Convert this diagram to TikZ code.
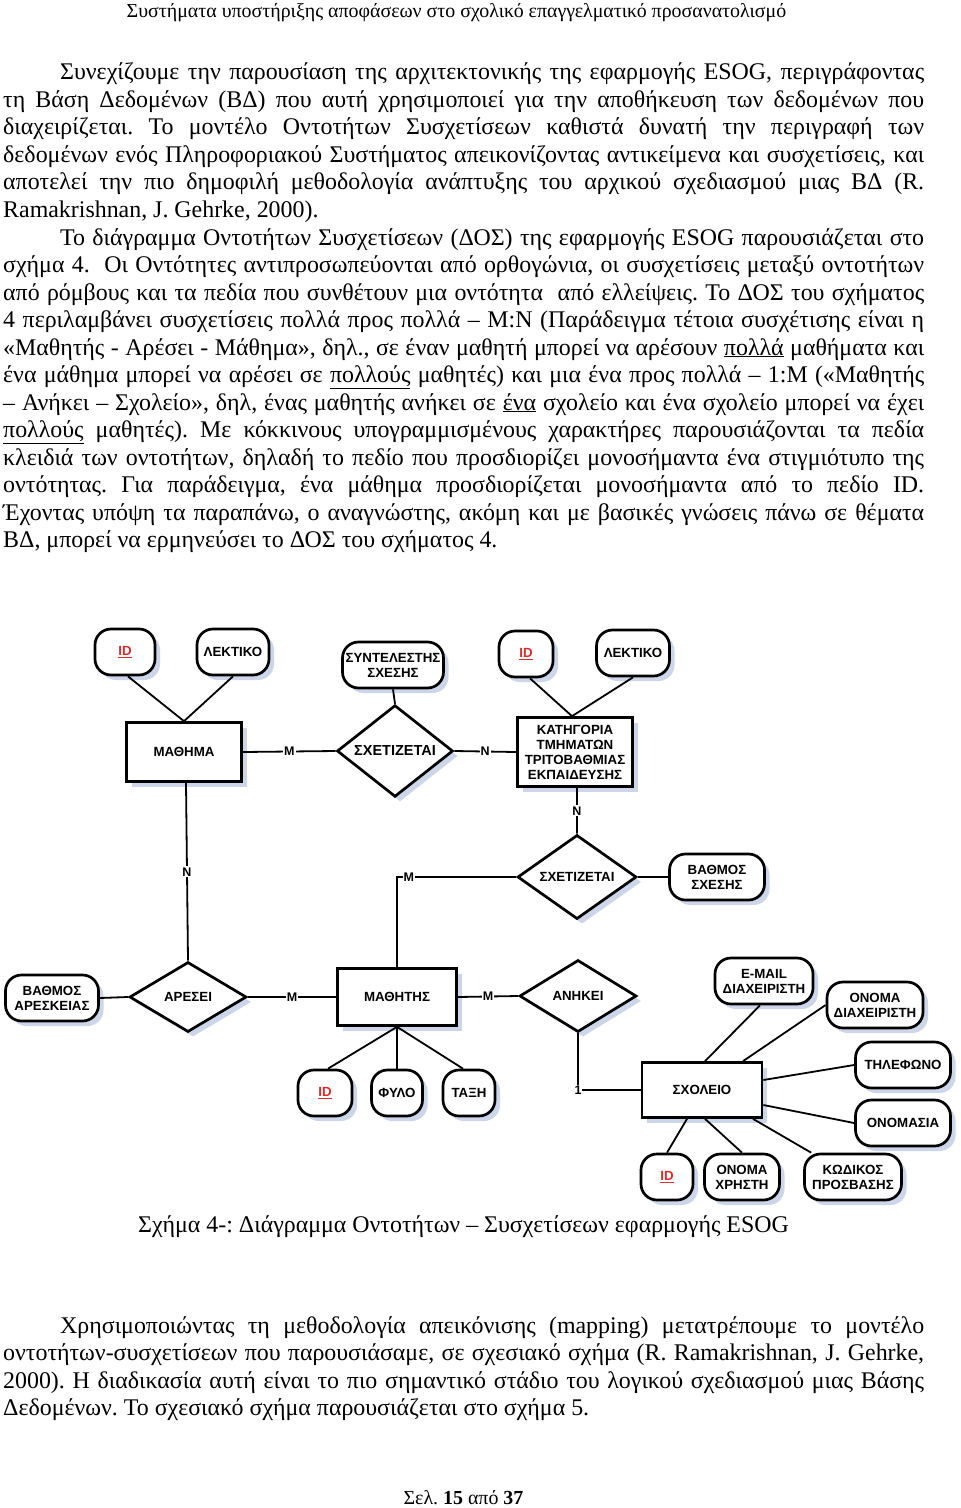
\documentclass[tikz,border=0pt]{standalone}
\usepackage{fontspec}
\setmainfont{Liberation Serif}
\newfontfamily\arialf{Liberation Sans}
\usetikzlibrary{shapes.geometric,shadows,calc}
\definecolor{shadowc}{RGB}{205,214,232}
\definecolor{idred}{RGB}{215,45,45}
\newcommand\bodyfont{\fontsize{23.9bp}{27.5bp}\selectfont}
\newcommand\smallbody{\fontsize{19.9bp}{23bp}\selectfont}
\newcommand\dfont{\arialf\bfseries\fontsize{13.3bp}{15bp}\selectfont}
\newcommand\cfont{\arialf\bfseries\fontsize{12.5bp}{14bp}\selectfont}
\newcommand\jline[4]{\node[txt] (#1) at (#2,#3) {\makebox[\dimexpr924bp-#2bp\relax][s]{#4}};}
\newcommand\pline[4]{\node[txt] (#1) at (#2,#3) {#4};}
\newcommand\idtxt{\textcolor{idred}{\underline{ID}}}
\frenchspacing
\tikzset{
  txt/.style={anchor=base west, inner sep=0, font=\bodyfont},
  shd/.style={drop shadow={shadow xshift=5bp, shadow yshift=-5bp, fill=shadowc, opacity=1}},
  attr/.style={draw, line width=2.7bp, rounded corners=16bp, fill=white, minimum height=46bp,
    align=center, font=\dfont, inner sep=1bp, shd},
  ent/.style={draw, line width=2.7bp, fill=white, align=center, font=\dfont, inner sep=2bp, shd},
  rel/.style={diamond, draw, line width=2.7bp, fill=white, align=center, font=\dfont,
    inner sep=0, minimum width=118bp, minimum height=70bp, shd},
  card/.style={fill=white, inner sep=1.2bp, font=\cfont},
  conn/.style={line width=1.8bp},
}
\begin{document}
\begin{tikzpicture}[x=1bp,y=-1bp]
\fill[white] (0,0) rectangle (960,1508);
\useasboundingbox (0,0) rectangle (960,1508);

% header
\node[anchor=base, inner sep=0, font=\smallbody] (hdr) at (456.5,18) {Συστήματα υποστήριξης αποφάσεων στο σχολικό επαγγελματικό προσανατολισμό};

% paragraph 1 and 2
\jline{a1}{60}{80}{Συνεχίζουμε την παρουσίαση της αρχιτεκτονικής της εφαρμογής ESOG, περιγράφοντας}
\jline{a2}{3}{107.5}{τη Βάση Δεδομένων (ΒΔ) που αυτή χρησιμοποιεί για την αποθήκευση των δεδομένων που}
\jline{a3}{3}{135}{διαχειρίζεται. Το μοντέλο Οντοτήτων Συσχετίσεων καθιστά δυνατή την περιγραφή των}
\jline{a4}{3}{162.5}{δεδομένων ενός Πληροφοριακού Συστήματος απεικονίζοντας αντικείμενα και συσχετίσεις, και}
\jline{a5}{3}{190}{αποτελεί την πιο δημοφιλή μεθοδολογία ανάπτυξης του αρχικού σχεδιασμού μιας ΒΔ (R.}
\pline{a6}{3}{217.5}{Ramakrishnan, J. Gehrke, 2000).}
\jline{b1}{60}{245}{Το διάγραμμα Οντοτήτων Συσχετίσεων (ΔΟΣ) της εφαρμογής ESOG παρουσιάζεται στο}
\jline{b2}{3}{272.5}{σχήμα 4. \ Οι Οντότητες αντιπροσωπεύονται από ορθογώνια, οι συσχετίσεις μεταξύ οντοτήτων}
\jline{b3}{3}{300}{από ρόμβους και τα πεδία που συνθέτουν μια οντότητα \ από ελλείψεις. Το ΔΟΣ του σχήματος}
\jline{b4}{3}{327.5}{4 περιλαμβάνει συσχετίσεις πολλά προς πολλά – Μ:Ν (Παράδειγμα τέτοια συσχέτισης είναι η}
\jline{b5}{3}{355}{«Μαθητής - Αρέσει - Μάθημα», δηλ., σε έναν μαθητή μπορεί να αρέσουν \underline{πολλά} μαθήματα και}
\jline{b6}{3}{382.5}{ένα μάθημα μπορεί να αρέσει σε \underline{πολλούς} μαθητές) και μια ένα προς πολλά – 1:Μ («Μαθητής}
\jline{b7}{3}{410}{– Ανήκει – Σχολείο», δηλ, ένας μαθητής ανήκει σε \underline{ένα} σχολείο και ένα σχολείο μπορεί να έχει}
\jline{b8}{3}{437.5}{\underline{πολλούς} μαθητές). Με κόκκινους υπογραμμισμένους χαρακτήρες παρουσιάζονται τα πεδία}
\jline{b9}{3}{465}{κλειδιά των οντοτήτων, δηλαδή το πεδίο που προσδιορίζει μονοσήμαντα ένα στιγμιότυπο της}
\jline{b10}{3}{492.5}{οντότητας. Για παράδειγμα, ένα μάθημα προσδιορίζεται μονοσήμαντα από το πεδίο ID.}
\jline{b11}{3}{520}{Έχοντας υπόψη τα παραπάνω, ο αναγνώστης, ακόμη και με βασικές γνώσεις πάνω σε θέματα}
\pline{b12}{3}{547.5}{ΒΔ, μπορεί να ερμηνεύσει το ΔΟΣ του σχήματος 4.}

% ===== diagram =====
\node[attr, minimum width=60bp] (id1) at (125,652) {\idtxt};
\node[attr, minimum width=72bp] (lek1) at (233,652) {ΛΕΚΤΙΚΟ};
\node[attr, minimum width=101bp] (synt) at (393,665) {ΣΥΝΤΕΛΕΣΤΗΣ\\ΣΧΕΣΗΣ};
\node[ent, minimum width=115bp, minimum height=59bp] (mathima) at (184,752) {ΜΑΘΗΜΑ};
\node[rel, minimum width=116bp, minimum height=77bp, font=\arialf\bfseries\fontsize{14.5bp}{16bp}\selectfont] (sx1) at (395,751) {ΣΧΕΤΙΖΕΤΑΙ};
\node[attr, minimum width=54bp] (id2) at (526,654) {\idtxt};
\node[attr, minimum width=73bp] (lek2) at (633,653) {ΛΕΚΤΙΚΟ};
\node[ent, minimum width=115bp, minimum height=69bp] (kat) at (575,752) {ΚΑΤΗΓΟΡΙΑ\\ΤΜΗΜΑΤΩΝ\\ΤΡΙΤΟΒΑΘΜΙΑΣ\\ΕΚΠΑΙΔΕΥΣΗΣ};
\node[rel, minimum width=119bp, minimum height=69bp] (sx2) at (577,877) {ΣΧΕΤΙΖΕΤΑΙ};
\node[attr, minimum width=95bp] (vsx) at (717,877) {ΒΑΘΜΟΣ\\ΣΧΕΣΗΣ};
\node[attr, minimum width=93bp] (var) at (52,998) {ΒΑΘΜΟΣ\\ΑΡΕΣΚΕΙΑΣ};
\node[rel, minimum width=117bp, minimum height=70bp] (ares) at (188,997) {ΑΡΕΣΕΙ};
\node[ent, minimum width=119bp, minimum height=57bp] (mathitis) at (397,997) {ΜΑΘΗΤΗΣ};
\node[rel, minimum width=117bp, minimum height=72bp] (anhkei) at (578,996) {ΑΝΗΚΕΙ};
\node[attr, minimum width=54bp] (id3) at (325,1093) {\idtxt};
\node[attr, minimum width=51bp] (fylo) at (397,1093) {ΦΥΛΟ};
\node[attr, minimum width=52bp] (taxi) at (469,1093) {ΤΑΞΗ};
\node[ent, minimum width=120bp, minimum height=55bp] (sxoleio) at (702,1090) {ΣΧΟΛΕΙΟ};
\node[attr, minimum width=98bp] (email) at (764,981) {E-MAIL\\ΔΙΑΧΕΙΡΙΣΤΗ};
\node[attr, minimum width=96bp] (onomad) at (875,1005) {ΟΝΟΜΑ\\ΔΙΑΧΕΙΡΙΣΤΗ};
\node[attr, minimum width=95bp] (tel) at (903,1065) {ΤΗΛΕΦΩΝΟ};
\node[attr, minimum width=95bp] (onomasia) at (903,1123) {ΟΝΟΜΑΣΙΑ};
\node[attr, minimum width=52bp] (id4) at (667,1177) {\idtxt};
\node[attr, minimum width=75bp] (onx) at (742,1177) {ΟΝΟΜΑ\\ΧΡΗΣΤΗ};
\node[attr, minimum width=97bp] (kod) at (853,1177) {ΚΩΔΙΚΟΣ\\ΠΡΟΣΒΑΣΗΣ};

% connectors
\draw[conn] ([xshift=3bp]id1.south) -- (mathima.north);
\draw[conn] (lek1.south) -- (mathima.north);
\draw[conn] (synt.south) -- (sx1.north);
\draw[conn] (mathima.east) -- node[card] (c1) {M} (sx1.west);
\draw[conn] (sx1.east) -- node[card] (c2) {N} (kat.west);
\draw[conn] ([xshift=4bp]id2.south) -- ([xshift=-3bp]kat.north);
\draw[conn] (lek2.south) -- ([xshift=-3bp]kat.north);
\draw[conn] ([xshift=2bp]kat.south) -- node[card] (c3) {N} (sx2.north);
\draw[conn] (sx2.east) -- (vsx.west);
\draw[conn] (sx2.west) -| node[card, pos=0.45] (c4) {M} (mathitis.north);
\draw[conn] ([xshift=2bp]mathima.south) -- node[card] (c5) {N} (ares.north);
\draw[conn] (var.east) -- (ares.west);
\draw[conn] (ares.east) -- node[card] (c6) {M} (mathitis.west);
\draw[conn] (mathitis.east) -- node[card] (c7) {M} (anhkei.west);
\draw[conn] (mathitis.south) -- ([xshift=3bp]id3.north);
\draw[conn] (mathitis.south) -- (fylo.north);
\draw[conn] (mathitis.south) -- ([xshift=-6bp]taxi.north);
\draw[conn] (anhkei.south) |- node[card, pos=0.5, inner sep=0.5bp] (c8) {1} (sxoleio.west);
\draw[conn] ([xshift=-4bp]email.south) -- ([xshift=3bp]sxoleio.north);
\draw[conn] (onomad.west) -- ([xshift=41bp]sxoleio.north);
\draw[conn] (tel.west) -- ([yshift=10bp]sxoleio.east);
\draw[conn] (onomasia.west) -- ([yshift=-15bp]sxoleio.east);
\draw[conn] (id4.north) -- ([xshift=-15bp]sxoleio.south);
\draw[conn] (onx.north) -- ([xshift=3bp]sxoleio.south);
\draw[conn] ([xshift=8bp]kod.north west) -- ([xshift=51bp]sxoleio.south);

% caption
\node[anchor=base, inner sep=0, font=\bodyfont] (cap) at (463.5,1232) {Σχήμα 4-: Διάγραμμα Οντοτήτων – Συσχετίσεων εφαρμογής ESOG};

% paragraph 3
\jline{p1}{60}{1333}{Χρησιμοποιώντας τη μεθοδολογία απεικόνισης (mapping) μετατρέπουμε το μοντέλο}
\jline{p2}{3}{1360.5}{οντοτήτων-συσχετίσεων που παρουσιάσαμε, σε σχεσιακό σχήμα (R. Ramakrishnan, J. Gehrke,}
\jline{p3}{3}{1388}{2000). Η διαδικασία αυτή είναι το πιο σημαντικό στάδιο του λογικού σχεδιασμού μιας Βάσης}
\pline{p4}{3}{1415.5}{Δεδομένων. Το σχεσιακό σχήμα παρουσιάζεται στο σχήμα 5.}

% footer
\node[anchor=base, inner sep=0, font=\smallbody] (ftr) at (463.5,1504) {Σελ. \textbf{15} από \textbf{37}};
\end{tikzpicture}
\end{document}
